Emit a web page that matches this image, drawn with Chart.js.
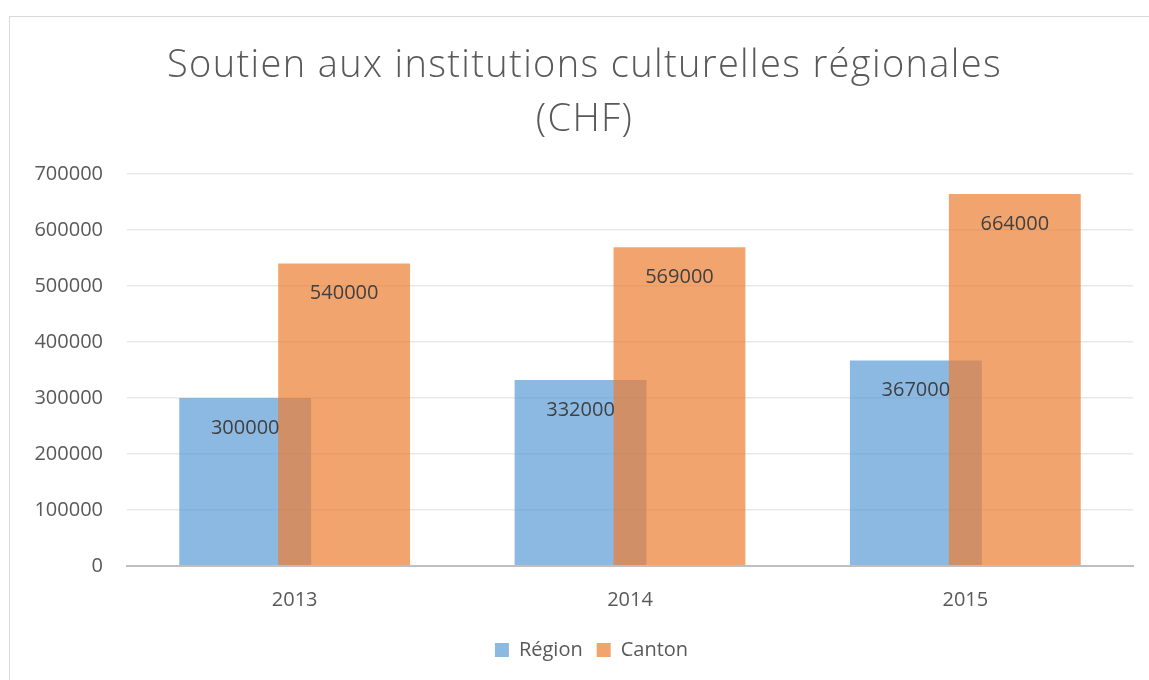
<!DOCTYPE html>
<html lang="fr">
<head>
    <meta charset="UTF-8">
    <title>Soutien aux institutions culturelles régionales</title>
    <script src="https://cdn.jsdelivr.net/npm/chart.js"></script>
    <style>
        html, body { margin: 0; padding: 0; background: #fff; overflow: hidden; }
        #frame {
            position: absolute; left: 9px; top: 16px;
            width: 1160px; height: 680px;
            border-left: 1px solid #D9D9D9; border-top: 1px solid #D9D9D9;
        }
        #chart { position: absolute; left: 0; top: 0; }
    </style>
</head>
<body>
    <div id="frame">
        <canvas id="chart" width="1150" height="663"></canvas>
    </div>

    <script>
        const years = ['2013', '2014', '2015'];
        const region = [300000, 332000, 367000];
        const canton = [540000, 569000, 664000];
        const yTicks = [0, 100000, 200000, 300000, 400000, 500000, 600000, 700000];

        const txt = '#595959';
        const fontName = "'Open Sans', 'Noto Sans', sans-serif";

        // Chart.js paints dataset 0 last; here Canton (1) must sit on top of Région
        let lateDraw = false;
        const cantonOnTop = {
            id: 'cantonOnTop',
            beforeDatasetDraw(chart, args) {
                if (args.index === 1 && !lateDraw) return false;
            },
            afterDatasetsDraw(chart) {
                lateDraw = true;
                chart.getDatasetMeta(1).controller.draw();
                lateDraw = false;
            }
        };

        // labels inside the top of each bar, like Excel's "inside end"
        const barLabels = {
            id: 'barLabels',
            afterDatasetsDraw(chart) {
                const ctx = chart.ctx;
                ctx.save();
                ctx.font = '20px ' + fontName;
                ctx.fillStyle = '#404040';
                ctx.textAlign = 'center';
                ctx.textBaseline = 'middle';
                chart.data.datasets.forEach((ds, i) => {
                    chart.getDatasetMeta(i).data.forEach((bar, j) => {
                        ctx.fillText(String(ds.data[j]), bar.x, bar.y + 30);
                    });
                });
                ctx.restore();
            }
        };

        const chart = new Chart(document.getElementById('chart'), {
            type: 'bar',
            data: {
                labels: years,
                datasets: [
                    {
                        label: 'Région',
                        data: region,
                        backgroundColor: 'rgba(91, 155, 213, 0.7)',
                        categoryPercentage: 0.59,
                        barPercentage: 1.333
                    },
                    {
                        label: 'Canton',
                        data: canton,
                        backgroundColor: 'rgba(237, 125, 49, 0.7)',
                        categoryPercentage: 0.59,
                        barPercentage: 1.333
                    }
                ]
            },
            options: {
                responsive: false,
                animation: false,
                layout: { padding: { left: 0, right: 27, top: 0, bottom: 10 } },
                plugins: {
                    title: {
                        display: true,
                        text: ['Soutien aux institutions culturelles régionales', '(CHF)'],
                        color: txt,
                        font: { family: fontName, size: 38, weight: 300, lineHeight: 1.42 },
                        padding: { top: 22, bottom: 27 }
                    },
                    legend: {
                        position: 'bottom',
                        labels: {
                            color: txt,
                            font: { family: fontName, size: 20 },
                            boxWidth: 14,
                            boxHeight: 14,
                            padding: 14
                        }
                    },
                    tooltip: { enabled: false }
                },
                scales: {
                    x: {
                        grid: { display: false },
                        border: { display: true, color: '#BFBFBF', width: 2 },
                        ticks: { color: txt, font: { family: fontName, size: 20 }, padding: 14 }
                    },
                    y: {
                        min: 0,
                        max: 700000,
                        afterBuildTicks: axis => { axis.ticks = yTicks.map(v => ({ value: v })); },
                        afterFit: axis => { axis.width = 117; },
                        border: { display: false },
                        grid: {
                            drawTicks: false,
                            color: c => c.index === 0 ? '#BFBFBF' : '#E8E8E8',
                            lineWidth: c => c.index === 0 ? 2 : 1.5
                        },
                        ticks: {
                            color: txt,
                            font: { family: fontName, size: 20 },
                            padding: 24,
                            callback: v => String(v)
                        }
                    }
                }
            },
            plugins: [cantonOnTop, barLabels]
        });

        // title and legend are centred on the whole frame, not on the area left of the padding
        function shiftBox(box, dx, spacing) {
            const orig = box.draw.bind(box);
            box.draw = function () {
                this.ctx.save();
                if (spacing) this.ctx.letterSpacing = spacing;
                this.ctx.translate(dx, 0);
                orig();
                this.ctx.restore();
            };
        }
        shiftBox(chart.titleBlock, 13, '1.35px');   // the Excel title is letter-spaced
        shiftBox(chart.legend, 20);
        chart.draw();
    </script>
</body>
</html>
